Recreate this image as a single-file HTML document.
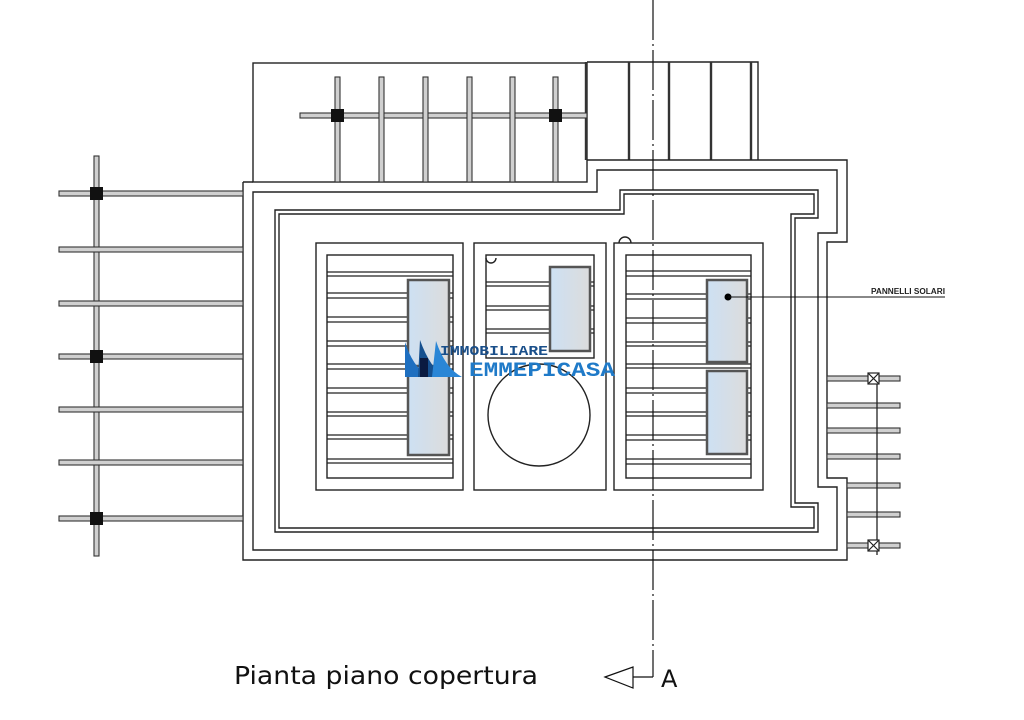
<!DOCTYPE html>
<html><head><meta charset="utf-8"><style>
html,body{margin:0;padding:0;background:#fff;width:1024px;height:720px;overflow:hidden}
</style></head><body>
<svg width="1024" height="720" viewBox="0 0 1024 720" xmlns="http://www.w3.org/2000/svg">
<defs>
<linearGradient id="pg" x1="0" x2="1" y1="0" y2="0"><stop offset="0" stop-color="#cde0f3"/><stop offset="1" stop-color="#dcdcdc"/></linearGradient>
</defs>
<g fill="none" stroke="#222" stroke-width="1.4">
<rect x="253" y="63" width="334" height="119"/>
<path d="M587,62 H758 V160"/>
<g stroke-width="2.4" stroke="#333"><line x1="586" y1="62" x2="586" y2="160"/><line x1="629" y1="62" x2="629" y2="160"/><line x1="669" y1="62" x2="669" y2="160"/><line x1="711" y1="62" x2="711" y2="160"/><line x1="751" y1="62" x2="751" y2="160"/></g>
<path d="M243,182 H253 M243,182 V560 H847 V478 H827 V242 H847 V160 H587"/>
<path d="M253,192 H597 V170 H837 V233 H818 V487 H837 V550 H253 Z"/>
<path d="M275,210 H620 V190 H818 V218 H795 V503 H818 V532 H275 Z"/>
<path d="M279,214 H624 V194 H814 V214 H791 V507 H814 V528 H279 Z"/>
<rect x="316" y="243" width="147" height="247"/>
<rect x="327" y="255" width="126" height="223"/>
<rect x="474" y="243" width="132" height="247"/>
<rect x="486" y="255" width="108" height="103"/>
<rect x="614" y="243" width="149" height="247"/>
<rect x="626" y="255" width="125" height="223"/>
<path d="M486,258 A5,5 0 0 0 496,258"/>
<path d="M619,243 A6,6 0 0 1 631,243"/>
<circle cx="539" cy="415" r="51"/>
</g>
<g stroke="#222" stroke-width="1.2">
<line x1="327" y1="272" x2="453" y2="272"/><line x1="327" y1="276" x2="453" y2="276"/>
<line x1="327" y1="293" x2="453" y2="293"/><line x1="327" y1="298" x2="453" y2="298"/>
<line x1="327" y1="317" x2="453" y2="317"/><line x1="327" y1="322" x2="453" y2="322"/>
<line x1="327" y1="341" x2="453" y2="341"/><line x1="327" y1="346" x2="453" y2="346"/>
<line x1="327" y1="364" x2="453" y2="364"/><line x1="327" y1="369" x2="453" y2="369"/>
<line x1="327" y1="388" x2="453" y2="388"/><line x1="327" y1="393" x2="453" y2="393"/>
<line x1="327" y1="412" x2="453" y2="412"/><line x1="327" y1="416" x2="453" y2="416"/>
<line x1="327" y1="435" x2="453" y2="435"/><line x1="327" y1="439" x2="453" y2="439"/>
<line x1="327" y1="459" x2="453" y2="459"/><line x1="327" y1="463" x2="453" y2="463"/>
<line x1="486" y1="282" x2="594" y2="282"/><line x1="486" y1="286" x2="594" y2="286"/>
<line x1="486" y1="306" x2="594" y2="306"/><line x1="486" y1="310" x2="594" y2="310"/>
<line x1="486" y1="329" x2="594" y2="329"/><line x1="486" y1="333" x2="594" y2="333"/>
<line x1="626" y1="271" x2="751" y2="271"/><line x1="626" y1="276" x2="751" y2="276"/>
<line x1="626" y1="294" x2="751" y2="294"/><line x1="626" y1="299" x2="751" y2="299"/>
<line x1="626" y1="318" x2="751" y2="318"/><line x1="626" y1="323" x2="751" y2="323"/>
<line x1="626" y1="342" x2="751" y2="342"/><line x1="626" y1="346" x2="751" y2="346"/>
<line x1="626" y1="364" x2="751" y2="364"/><line x1="626" y1="368" x2="751" y2="368"/>
<line x1="626" y1="388" x2="751" y2="388"/><line x1="626" y1="393" x2="751" y2="393"/>
<line x1="626" y1="412" x2="751" y2="412"/><line x1="626" y1="416" x2="751" y2="416"/>
<line x1="626" y1="435" x2="751" y2="435"/><line x1="626" y1="440" x2="751" y2="440"/>
<line x1="626" y1="459" x2="751" y2="459"/><line x1="626" y1="464" x2="751" y2="464"/>
</g>
<g fill="url(#pg)" stroke="#555" stroke-width="2.5">
<rect x="408" y="280" width="41" height="86"/>
<rect x="408" y="370" width="41" height="85"/>
<rect x="550" y="267" width="40" height="84"/>
<rect x="707" y="280" width="40" height="82"/>
<rect x="707" y="371" width="40" height="83"/>
</g>
<g fill="#d0d0d0" stroke="#333" stroke-width="1.1">
<rect x="94" y="156" width="5" height="400"/>
<rect x="59" y="191" width="184" height="5"/><rect x="59" y="247" width="184" height="5"/>
<rect x="59" y="301" width="184" height="5"/><rect x="59" y="354" width="184" height="5"/>
<rect x="59" y="407" width="184" height="5"/><rect x="59" y="460" width="184" height="5"/>
<rect x="59" y="516" width="184" height="5"/>
<rect x="300" y="113" width="287" height="5"/>
<rect x="335" y="77" width="5" height="105"/><rect x="379" y="77" width="5" height="105"/>
<rect x="423" y="77" width="5" height="105"/><rect x="467" y="77" width="5" height="105"/>
<rect x="510" y="77" width="5" height="105"/><rect x="553" y="77" width="5" height="105"/>
<rect x="827" y="376" width="73" height="5"/><rect x="827" y="403" width="73" height="5"/>
<rect x="827" y="428" width="73" height="5"/><rect x="827" y="454" width="73" height="5"/>
<rect x="847" y="483" width="53" height="5"/><rect x="847" y="512" width="53" height="5"/>
<rect x="847" y="543" width="53" height="5"/>
</g>
<line x1="877" y1="373" x2="877" y2="555" stroke="#222" stroke-width="1.3"/>
<g fill="#111">
<rect x="90" y="187" width="13" height="13"/><rect x="90" y="350" width="13" height="13"/><rect x="90" y="512" width="13" height="13"/>
<rect x="331" y="109" width="13" height="13"/><rect x="549" y="109" width="13" height="13"/>
</g>
<g fill="#fff" stroke="#222" stroke-width="1.2">
<rect x="868" y="373" width="11" height="11"/><rect x="868" y="540" width="11" height="11"/>
<path d="M868,373 L879,384 M879,373 L868,384 M868,540 L879,551 M879,540 L868,551"/>
</g>
<circle cx="728" cy="297" r="3.5" fill="#000"/>
<line x1="728" y1="297" x2="945" y2="297" stroke="#111" stroke-width="1"/>
<text x="871" y="294" font-family="Liberation Sans, sans-serif" font-size="8" font-weight="bold" fill="#222" textLength="74" lengthAdjust="spacingAndGlyphs">PANNELLI SOLARI</text>
<line x1="653" y1="0" x2="653" y2="677" stroke="#111" stroke-width="1.2" stroke-dasharray="40,4,2,4"/>
<line x1="633" y1="677" x2="653" y2="677" stroke="#111" stroke-width="1.2"/>
<path d="M605,677 L633,667 L633,688 Z" fill="#fff" stroke="#111" stroke-width="1.2"/>
<text x="661" y="687" font-family="DejaVu Sans, sans-serif" font-size="24" fill="#111">A</text>
<text x="234" y="684" font-family="DejaVu Sans, sans-serif" font-size="25" fill="#111" textLength="304" lengthAdjust="spacingAndGlyphs">Pianta piano copertura</text>
<path d="M405,377 L405,342 Q412,365 428,377 Z" fill="#1e6fc0"/>
<path d="M418,377 L420,340 Q430,368 445,377 Z" fill="#15508f"/>
<path d="M432,377 L436,341 Q445,368 462,377 Z" fill="#2a86d6"/>
<rect x="420" y="358" width="8" height="19" fill="#0a1a40"/>
<text x="440" y="355" font-family="Liberation Mono, monospace" font-size="14" font-weight="bold" fill="#1a4f8a" textLength="108" lengthAdjust="spacingAndGlyphs">IMMOBILIARE</text>
<text x="469" y="376" font-family="Liberation Mono, monospace" font-size="20" font-weight="bold" fill="#1f7ac8" textLength="146" lengthAdjust="spacingAndGlyphs">EMMEPICASA</text>
</svg>
</body></html>
